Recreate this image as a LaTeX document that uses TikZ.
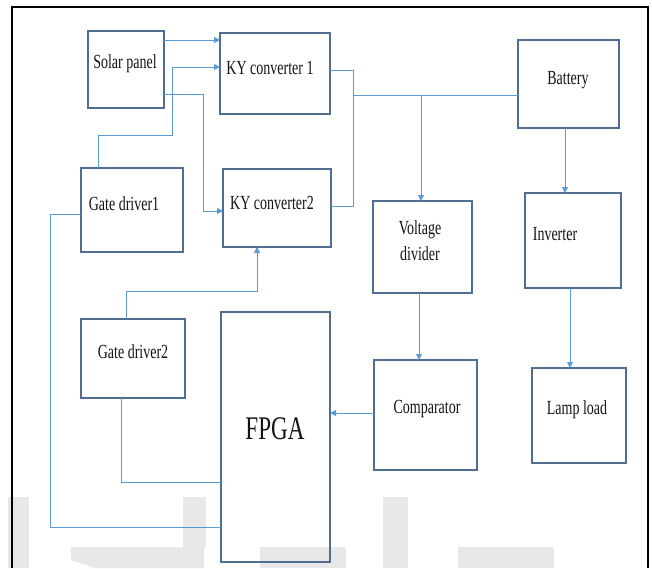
\documentclass[tikz,border=0pt]{standalone}
\usepackage{fontspec}
\setmainfont{Liberation Serif}[FakeStretch=0.7]
\usetikzlibrary{arrows.meta}
\definecolor{boxc}{RGB}{80,110,145}
\definecolor{linec}{RGB}{91,155,213}
\definecolor{txtc}{RGB}{20,20,20}
\definecolor{wmark}{RGB}{232,232,232}
\tikzset{
  box/.style={draw=boxc, line width=1.2pt, inner sep=0pt, outer sep=0pt, anchor=north west},
  lbl/.style={inner sep=0pt, anchor=base, text=txtc, font=\fontsize{20}{26}\selectfont},
  wire/.style={draw=linec, line width=0.9pt},
  arr/.style={wire, -{Triangle[length=6pt,width=6pt]}},
}
\begin{document}
\begin{tikzpicture}[x=1pt,y=-1pt]
\useasboundingbox (0,0) rectangle (652,568);
% faint watermark
\fill[wmark] (8,497) rectangle (29,568);
\fill[wmark] (183,497) rectangle (206,547);
\fill[wmark] (71,547) -- (204,547) -- (204,568) -- (95,568) -- (71,560) -- cycle;
\fill[wmark] (260,547) rectangle (346,568);
\fill[wmark] (383,497) rectangle (408,568);
\fill[wmark] (458,547) rectangle (554,568);
% frame
\draw[line width=2pt] (12,568) -- (12,7) -- (648,7) -- (648,568);
% boxes
\node[box, minimum width=76pt,  minimum height=77pt]  (sp)   at (88,31)   {};
\node[box, minimum width=110pt, minimum height=81pt]  (ky1)  at (220,33)  {};
\node[box, minimum width=102pt, minimum height=84pt]  (gd1)  at (81,168)  {};
\node[box, minimum width=108pt, minimum height=78pt]  (ky2)  at (223,169) {};
\node[box, minimum width=101pt, minimum height=88pt]  (bat)  at (518,40)  {};
\node[box, minimum width=99pt,  minimum height=92pt]  (vd)   at (373,201) {};
\node[box, minimum width=96pt,  minimum height=95pt]  (inv)  at (525,193) {};
\node[box, minimum width=104pt, minimum height=79pt]  (gd2)  at (81,319)  {};
\node[box, minimum width=109pt, minimum height=250pt] (fpga) at (221,312) {};
\node[box, minimum width=103pt, minimum height=110pt] (comp) at (374,360) {};
\node[box, minimum width=94pt,  minimum height=95pt]  (lamp) at (532,368) {};
% labels
\node[lbl] (spt)   at (125,68)  {Solar panel};
\node[lbl] (ky1t)  at (270,74)  {KY converter 1};
\node[lbl] (gd1t)  at (124,210) {Gate driver1};
\node[lbl] (ky2t)  at (272,209) {KY converter2};
\node[lbl] (batt)  at (568,84)  {Battery};
\node[lbl, anchor=center, align=center] (vdt) at (420,241) {Voltage\\divider};
\node[lbl] (invt)  at (555,240) {Inverter};
\node[lbl] (gd2t)  at (133,358) {Gate driver2};
\node[lbl, font=\fontsize{33}{36}\selectfont] (fpgat) at (275,439) {FPGA};
\node[lbl] (compt) at (427,413) {Comparator};
\node[lbl] (lampt) at (577,414) {Lamp load};
% connectors
\draw[arr] (sp.east |- 0,40) -- (ky1.west |- 0,40);
\draw[arr] (gd1.north -| 98,0) -- (98,135) -- (172,135) -- (172,67) -- (ky1.west |- 0,67);
\draw[arr] (sp.east |- 0,94) -- (203,94) -- (203,211) -- (ky2.west |- 0,211);
\draw[wire] (ky1.east |- 0,70) -- (353,70) -- (353,206) -- (ky2.east |- 0,206);
\draw[wire] (353,95) -- (bat.west |- 0,95);
\draw[arr] (421,95) -- (vd.north -| 421,0);
\draw[arr] (bat.south -| 565,0) -- (inv.north -| 565,0);
\draw[arr] (vd.south -| 419,0) -- (comp.north -| 419,0);
\draw[arr] (inv.south -| 570,0) -- (lamp.north -| 570,0);
\draw[arr] (comp.west |- 0,413) -- (fpga.east |- 0,413);
\draw[arr] (gd2.north -| 126,0) -- (126,291) -- (257,291) -- (ky2.south -| 257,0);
\draw[wire] (gd2.south -| 121,0) -- (121,482) -- (fpga.west |- 0,482);
\draw[wire] (gd1.west |- 0,214) -- (50,214) -- (50,527) -- (fpga.west |- 0,527);
\end{tikzpicture}
\end{document}
